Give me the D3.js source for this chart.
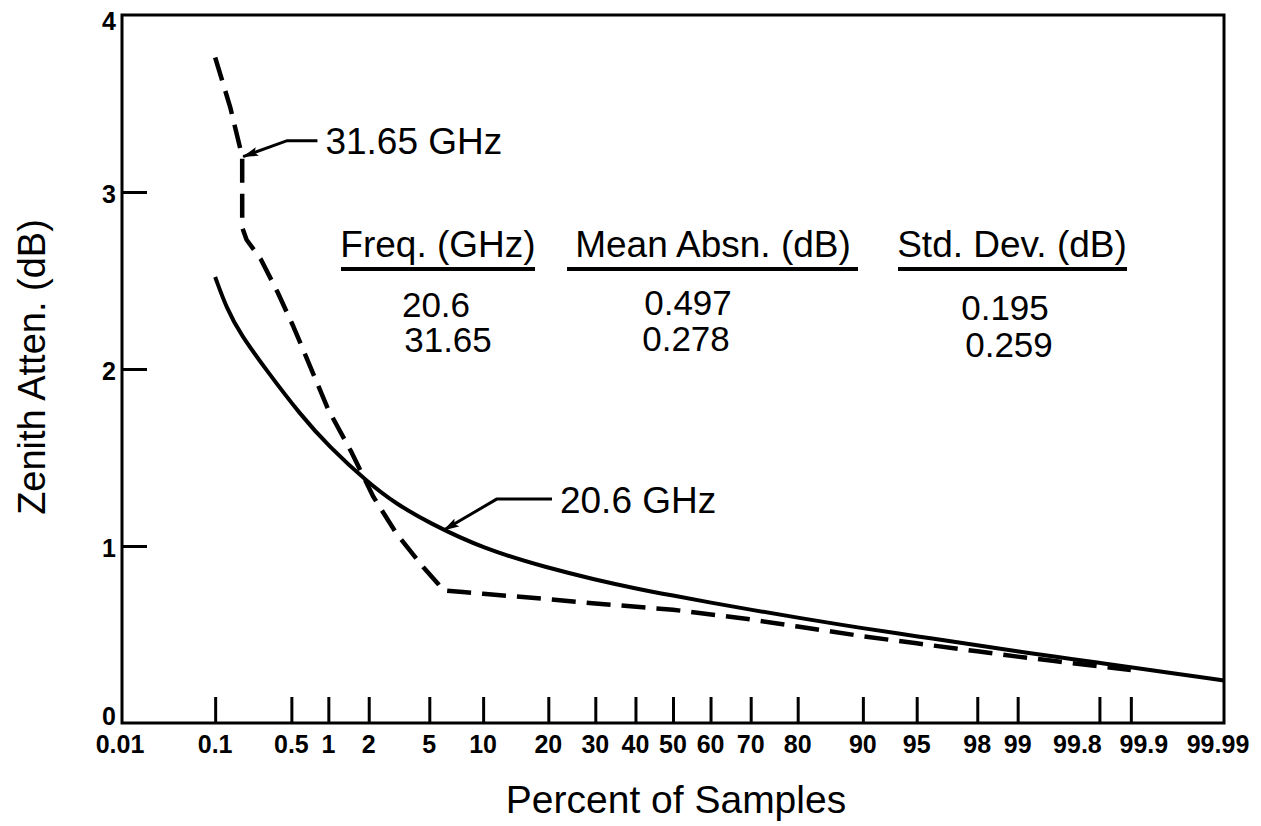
<!DOCTYPE html>
<html>
<head>
<meta charset="utf-8">
<script src="https://cdn.jsdelivr.net/npm/d3@7"></script>
<style>
  html, body { margin: 0; padding: 0; background: #fff; }
  svg { display: block; font-family: "Liberation Sans", Arial, Helvetica, sans-serif; }
</style>
</head>
<body>
<svg id="chart" width="1261" height="826"></svg>
<script>
// ---------------- DATA ----------------
const xTickLabels = [0.01, 0.1, 0.5, 1, 2, 5, 10, 20, 30, 40, 50, 60, 70, 80, 90, 95, 98, 99, 99.8, 99.9, 99.99];
const xTickMarks  = [0.1, 0.5, 1, 2, 5, 10, 20, 30, 40, 50, 60, 70, 80, 90, 95, 98, 99, 99.8, 99.9];
const yTicks = [0, 1, 2, 3, 4];

// 20.6 GHz (solid): percent of samples vs zenith attenuation (dB)
const pct206 = [0.1, 0.13, 0.174, 0.31, 0.59, 1, 2, 3.1, 5, 10, 20, 30, 40, 50, 60, 70, 80, 90, 95, 98, 99, 99.5, 99.8, 99.9, 99.99];
const db206  = [2.52, 2.34, 2.20, 1.985, 1.745, 1.565, 1.355, 1.237, 1.13, 0.985, 0.875, 0.81, 0.76, 0.72, 0.68, 0.64, 0.595, 0.535, 0.49, 0.44, 0.405, 0.375, 0.34, 0.315, 0.24];

// 31.65 GHz (dashed)
const pct3165 = [0.1, 0.14, 0.182, 0.182, 0.2, 0.27, 0.38, 0.52, 1.0, 1.5, 2.15, 3.1, 4.6, 5.6, 6.0, 7.8, 10, 20, 30, 50, 70, 80, 90, 95, 98, 99, 99.5, 99.8, 99.9];
const db3165  = [3.76, 3.48, 3.20, 2.80, 2.73, 2.62, 2.435, 2.24, 1.77, 1.53, 1.28, 1.07, 0.88, 0.79, 0.75, 0.74, 0.73, 0.70, 0.675, 0.64, 0.585, 0.545, 0.49, 0.45, 0.405, 0.375, 0.35, 0.32, 0.30];

// annotation leaders (percent, dB): label end -> elbow -> arrow tip
const lead3165Pct = [0.82, 0.46, 0.186];
const lead3165dB  = [3.29, 3.29, 3.20];
const lead206Pct  = [20.7, 11.7, 6.1];
const lead206dB   = [1.265, 1.265, 1.09];
const seriesLabels = ["31.65 GHz", "20.6 GHz"];

// statistics table
const tableHeaders = ["Freq. (GHz)", "Mean Absn. (dB)", "Std. Dev. (dB)"];
const tableFreq = ["20.6", "31.65"];
const tableMean = ["0.497", "0.278"];
const tableStd  = ["0.195", "0.259"];

// ---------------- HELPERS ----------------
// inverse standard normal CDF (Acklam)
function probit(p) {
  const a = [-3.969683028665376e+01, 2.209460984245205e+02, -2.759285104469687e+02, 1.383577518672690e+02, -3.066479806614716e+01, 2.506628277459239e+00];
  const b = [-5.447609879822406e+01, 1.615858368580409e+02, -1.556989798598866e+02, 6.680131188771972e+01, -1.328068155288572e+01];
  const c = [-7.784894002430293e-03, -3.223964580411365e-01, -2.400758277161838e+00, -2.549732539343734e+00, 4.374664141464968e+00, 2.938163982698783e+00];
  const d = [7.784695709041462e-03, 3.224671290700398e-01, 2.445134137142996e+00, 3.754408661907416e+00];
  const pl = 0.02425, ph = 1 - pl;
  let q, r;
  if (p < pl) {
    q = Math.sqrt(-2 * Math.log(p));
    return (((((c[0]*q+c[1])*q+c[2])*q+c[3])*q+c[4])*q+c[5]) / ((((d[0]*q+d[1])*q+d[2])*q+d[3])*q+1);
  } else if (p <= ph) {
    q = p - 0.5; r = q * q;
    return (((((a[0]*r+a[1])*r+a[2])*r+a[3])*r+a[4])*r+a[5])*q / (((((b[0]*r+b[1])*r+b[2])*r+b[3])*r+b[4])*r+1);
  } else {
    q = Math.sqrt(-2 * Math.log(1 - p));
    return -(((((c[0]*q+c[1])*q+c[2])*q+c[3])*q+c[4])*q+c[5]) / ((((d[0]*q+d[1])*q+d[2])*q+d[3])*q+1);
  }
}

// ---------------- LAYOUT ----------------
const mLeft = 122, mRight = 1224, mTop = 15, mBottom = 723;
const zScale = d3.scaleLinear().domain([probit(0.0001), probit(0.9999)]).range([mLeft, mRight]);
const x = p => zScale(probit(p / 100));
const y = d3.scaleLinear().domain([0, 4]).range([mBottom, mTop]);

const svg = d3.select("#chart");

svg.append("defs").append("marker")
  .attr("id", "arrow").attr("viewBox", "0 0 16 9")
  .attr("refX", 15).attr("refY", 4.5)
  .attr("markerWidth", 16).attr("markerHeight", 9)
  .attr("markerUnits", "userSpaceOnUse")
  .attr("orient", "auto")
  .append("path").attr("d", "M0,0 L16,4.5 L0,9 L3,4.5 Z").attr("fill", "#000");

// frame
svg.append("rect")
  .attr("x", mLeft).attr("y", mTop)
  .attr("width", mRight - mLeft).attr("height", mBottom - mTop)
  .attr("fill", "none").attr("stroke", "#000").attr("stroke-width", 3);

// x axis ticks (inward) + labels
const xPix = d3.scaleLinear().domain([mLeft, mRight]).range([mLeft, mRight]);
const xAxis = d3.axisBottom(xPix).tickValues(xTickMarks.map(x)).tickSize(-26).tickFormat("");
const gx = svg.append("g").attr("transform", `translate(0,${mBottom})`).call(xAxis);
gx.select(".domain").remove();
gx.selectAll(".tick line").attr("stroke", "#000").attr("stroke-width", 3);

// small label nudges where the printed labels sit off their ticks
const labelNudge = { 99.8: -22, 99.9: 13, 99.99: -6, 0.01: -2 };
svg.append("g").selectAll("text").data(xTickLabels).join("text")
  .attr("x", d => x(d) + (labelNudge[d] || 0)).attr("y", 753)
  .attr("text-anchor", "middle")
  .attr("font-size", 25).attr("font-weight", "bold")
  .text(d => String(d));

// y axis ticks (inward) + labels
const yAxis = d3.axisLeft(y).tickValues([1, 2, 3]).tickSize(-25).tickFormat("");
const gy = svg.append("g").attr("transform", `translate(${mLeft},0)`).call(yAxis);
gy.select(".domain").remove();
gy.selectAll(".tick line").attr("stroke", "#000").attr("stroke-width", 3);

svg.append("g").selectAll("text").data(yTicks).join("text")
  .attr("x", 116)
  .attr("y", d => y(d) + (d === 0 ? -7 : d === 4 ? 6 : 2))
  .attr("text-anchor", "end").attr("dominant-baseline", "central")
  .attr("font-size", 25).attr("font-weight", "bold")
  .text(d => d);

// axis titles
svg.append("text")
  .attr("transform", "translate(45,367) rotate(-90)")
  .attr("text-anchor", "middle")
  .attr("font-size", 38)
  .text("Zenith Atten. (dB)");
svg.append("text")
  .attr("x", 676).attr("y", 813)
  .attr("text-anchor", "middle")
  .attr("font-size", 39)
  .text("Percent of Samples");

// curves
svg.append("path")
  .attr("d", d3.line().x(d => x(d[0])).y(d => y(d[1])).curve(d3.curveBasis)(pct206.map((p, i) => [p, db206[i]])))
  .attr("fill", "none").attr("stroke", "#000").attr("stroke-width", 4);
svg.append("path")
  .attr("d", d3.line().x(d => x(d[0])).y(d => y(d[1])).curve(d3.curveLinear)(pct3165.map((p, i) => [p, db3165[i]])))
  .attr("fill", "none").attr("stroke", "#000").attr("stroke-width", 4.5)
  .attr("stroke-linejoin", "round")
  .attr("stroke-dasharray", "24,11");

// leaders + labels
const leaders = [
  { pct: lead3165Pct, db: lead3165dB, label: seriesLabels[0] },
  { pct: lead206Pct, db: lead206dB, label: seriesLabels[1] }
];
leaders.forEach(L => {
  const pts = L.pct.map((p, i) => [x(p), y(L.db[i])]);
  svg.append("path")
    .attr("d", d3.line()(pts))
    .attr("fill", "none").attr("stroke", "#000").attr("stroke-width", 3)
    .attr("marker-end", "url(#arrow)");
  svg.append("text")
    .attr("x", pts[0][0] + 8).attr("y", pts[0][1] + 1)
    .attr("dominant-baseline", "central")
    .attr("font-size", 37)
    .text(L.label);
});

// statistics table
const colCenters = [438, 713, 1012];
const colSpans = [[341, 535], [567, 858], [898, 1127]];
svg.append("g").selectAll("text").data(tableHeaders).join("text")
  .attr("x", (d, i) => colCenters[i]).attr("y", 257)
  .attr("text-anchor", "middle").attr("font-size", 37)
  .text(d => d);
svg.append("g").selectAll("line").data(colSpans).join("line")
  .attr("x1", d => d[0]).attr("x2", d => d[1])
  .attr("y1", 269).attr("y2", 269)
  .attr("stroke", "#000").attr("stroke-width", 4);

const rows = [
  { vals: tableFreq, xs: [436, 448], ys: [317, 352] },
  { vals: tableMean, xs: [688, 686], ys: [315, 351] },
  { vals: tableStd,  xs: [1005, 1009], ys: [320, 357] }
];
rows.forEach(col => {
  col.vals.forEach((v, i) => {
    svg.append("text")
      .attr("x", col.xs[i]).attr("y", col.ys[i])
      .attr("text-anchor", "middle").attr("font-size", 35)
      .text(v);
  });
});
</script>
</body>
</html>
